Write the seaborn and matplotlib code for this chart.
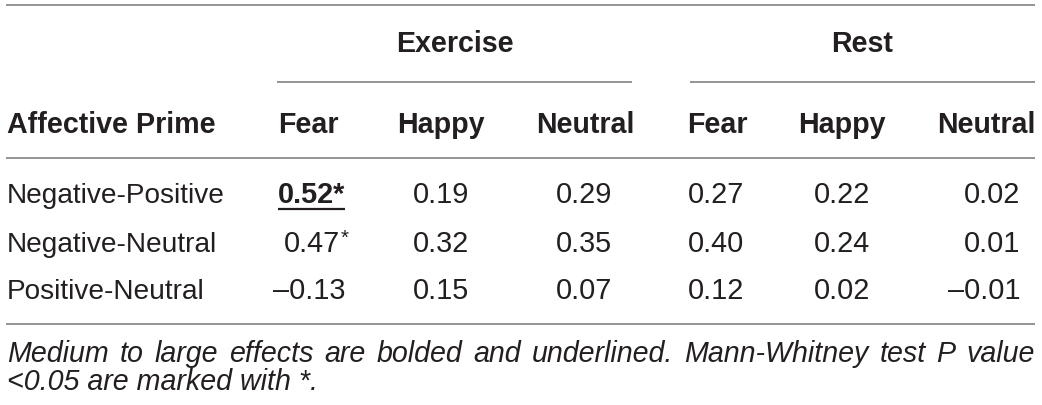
import matplotlib
matplotlib.use("Agg")
import matplotlib.pyplot as plt
import seaborn as sns

# ---------------- data ----------------
groups = ["Exercise", "Rest"]
emotions = ["Fear", "Happy", "Neutral"]
stub_header = "Affective Prime"
row_labels = ["Negative-Positive", "Negative-Neutral", "Positive-Neutral"]
exercise_fear = [0.52, 0.47, -0.13]
exercise_happy = [0.19, 0.32, 0.15]
exercise_neutral = [0.29, 0.35, 0.07]
rest_fear = [0.27, 0.40, 0.12]
rest_happy = [0.22, 0.24, 0.02]
rest_neutral = [0.02, 0.01, -0.01]
# (row, column) flags
bold_underlined = [(0, 0)]
significant = [(0, 0), (1, 0)]
footnote_line1 = "Medium to large effects are bolded and underlined. Mann-Whitney test P value"
footnote_line2 = "<0.05 are marked with *."

columns = [exercise_fear, exercise_happy, exercise_neutral,
           rest_fear, rest_happy, rest_neutral]


def fmt(v):
    s = f"{abs(v):.2f}"
    return ("\u2013" + s) if v < 0 else s


# ---------------- style ----------------
sns.set_theme(style="white")
plt.rcParams["font.family"] = ["Liberation Sans", "DejaVu Sans"]
TXT = "#231f20"
RULE = "#8c8c8c"
FS = 20.2      # row labels
FSN = 20.8     # numbers
FSF = 20.6     # footnote
FSB = 20.6     # bold headers

W, H = 1042, 405
fig = plt.figure(figsize=(W / 100, H / 100), dpi=100)
ax = fig.add_axes([0, 0, 1, 1])
ax.set_xlim(0, W)
ax.set_ylim(H, 0)
ax.axis("off")
sns.despine(ax=ax, left=True, bottom=True)

# layout
left = 7
right = 1035
col_x = [345, 441, 584, 716, 842, 1020]
col_ha = ["right", "center", "center", "center", "center", "right"]
head_x = [308, 441, 585, 717, 842, 986]
group_x = [455, 862]
group_span = [(277, 632), (690, 1035)]
y_group = 52
y_head = 133
y_rows = [203, 252, 299]
y_foot = [362, 390]

# rules
for y in (5, 158, 324):
    ax.plot([6, right], [y, y], color=RULE, lw=1.3, solid_capstyle="butt")
for (x0, x1) in group_span:
    ax.plot([x0, x1], [82, 82], color=RULE, lw=1.3, solid_capstyle="butt")

# group headers
for g, gx in zip(groups, group_x):
    ax.text(gx, y_group, g, ha="center", va="baseline", fontsize=FSB,
            fontweight="bold", color=TXT)

# column headers
ax.text(left, y_head, stub_header, ha="left", va="baseline", fontsize=FSB,
        fontweight="bold", color=TXT)
for i, hx in enumerate(head_x):
    ax.text(hx, y_head, emotions[i % 3], ha="center", va="baseline",
            fontsize=FSB, fontweight="bold", color=TXT)

fig.canvas.draw()
renderer = fig.canvas.get_renderer()
inv = ax.transData.inverted()

# body
for r, label in enumerate(row_labels):
    y = y_rows[r]
    ax.text(left, y, label, ha="left", va="baseline", fontsize=FS, color=TXT)
    for c, col in enumerate(columns):
        s = fmt(col[r])
        if (r, c) in bold_underlined:
            if (r, c) in significant:
                s += "*"
            t = ax.text(col_x[c], y, s, ha=col_ha[c], va="baseline",
                        fontsize=FSN, fontweight="bold", color=TXT)
            bb = t.get_window_extent(renderer)
            (x0, _), (x1, _) = inv.transform([[bb.x0, bb.y0], [bb.x1, bb.y1]])
            ax.plot([x0, x1], [y + 6, y + 6], color=TXT, lw=1.6,
                    solid_capstyle="butt")
        elif (r, c) in significant:
            xr = col_x[c] - 5
            ax.text(xr, y, s, ha="right", va="baseline", fontsize=FSN,
                    color=TXT)
            ax.text(xr + 1, y - 8, "*", ha="left", va="baseline",
                    fontsize=FSN * 0.72, color=TXT)
        else:
            ax.text(col_x[c], y, s, ha=col_ha[c], va="baseline",
                    fontsize=FSN, color=TXT)

# footnote, line 1 justified
words = footnote_line1.split()
widths = []
for w in words:
    t = ax.text(0, 0, w, fontsize=FSF, style="italic", color=TXT)
    bb = t.get_window_extent(renderer)
    widths.append(bb.width)
    t.remove()
gap = (right - left - sum(widths)) / (len(words) - 1)
x = left
for w, wd in zip(words, widths):
    ax.text(x, y_foot[0], w, ha="left", va="baseline", fontsize=FSF,
            style="italic", color=TXT)
    x += wd + gap
ax.text(left, y_foot[1], footnote_line2, ha="left", va="baseline",
        fontsize=FSF, style="italic", color=TXT)

fig.savefig("out.png", dpi=100, facecolor="white")
